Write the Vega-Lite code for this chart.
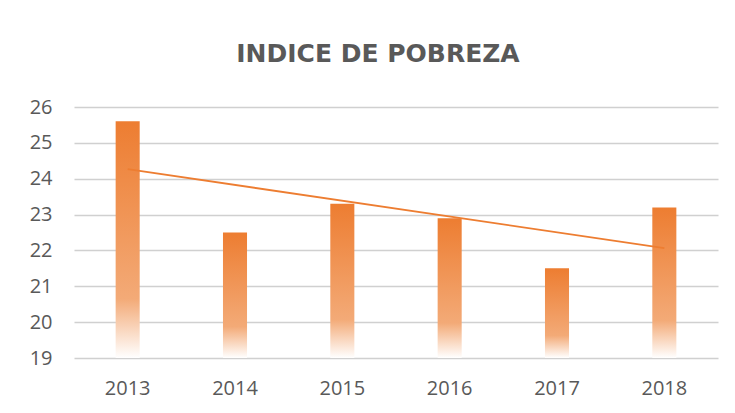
{
  "$schema": "https://vega.github.io/schema/vega-lite/v6.json",
  "autosize": "none",
  "width": 644,
  "height": 251,
  "padding": {"left": 74, "top": 107, "right": 17, "bottom": 55},
  "background": "white",
  "title": {
    "text": "INDICE DE POBREZA",
    "font": "DejaVu Sans",
    "fontSize": 25,
    "fontWeight": "bold",
    "color": "#595959",
    "anchor": "middle",
    "dx": -18,
    "offset": 30
  },
  "data": {
    "values": [
      {"year": 2013, "value": 25.6},
      {"year": 2014, "value": 22.5},
      {"year": 2015, "value": 23.3},
      {"year": 2016, "value": 22.9},
      {"year": 2017, "value": 21.5},
      {"year": 2018, "value": 23.2}
    ]
  },
  "encoding": {
    "x": {
      "field": "year",
      "type": "ordinal",
      "scale": {"paddingInner": 0.776, "paddingOuter": 0.388},
      "axis": {
        "title": null,
        "labelAngle": 0,
        "ticks": false,
        "domain": false,
        "labelPadding": 20,
        "labelFont": "Open Sans",
        "labelFontSize": 20,
        "labelColor": "#595959"
      }
    },
    "y": {
      "field": "value",
      "type": "quantitative",
      "scale": {"domain": [19, 26], "zero": false, "nice": false},
      "axis": {
        "title": null,
        "values": [19, 20, 21, 22, 23, 24, 25, 26],
        "labelOverlap": false,
        "ticks": false,
        "domain": false,
        "labelPadding": 22,
        "labelFont": "Open Sans",
        "labelFontSize": 20,
        "labelColor": "#595959",
        "gridColor": "#D0D0D0",
        "gridWidth": 1.5
      }
    }
  },
  "layer": [
    {
      "mark": {
        "type": "bar",
        "color": {
          "gradient": "linear",
          "x1": 0, "y1": 0, "x2": 0, "y2": 1,
          "stops": [
            {"offset": 0, "color": "#ED7D31"},
            {"offset": 0.75, "color": "#F3AA77"},
            {"offset": 1, "color": "#FFFFFF"}
          ]
        }
      },
      "encoding": {
        "y2": {"datum": 19}
      }
    },
    {
      "transform": [
        {"regression": "value", "on": "year", "method": "linear"}
      ],
      "mark": {"type": "line", "color": "#ED7D31", "strokeWidth": 1.8},
      "encoding": {}
    }
  ],
  "config": {
    "view": {"stroke": null}
  }
}
